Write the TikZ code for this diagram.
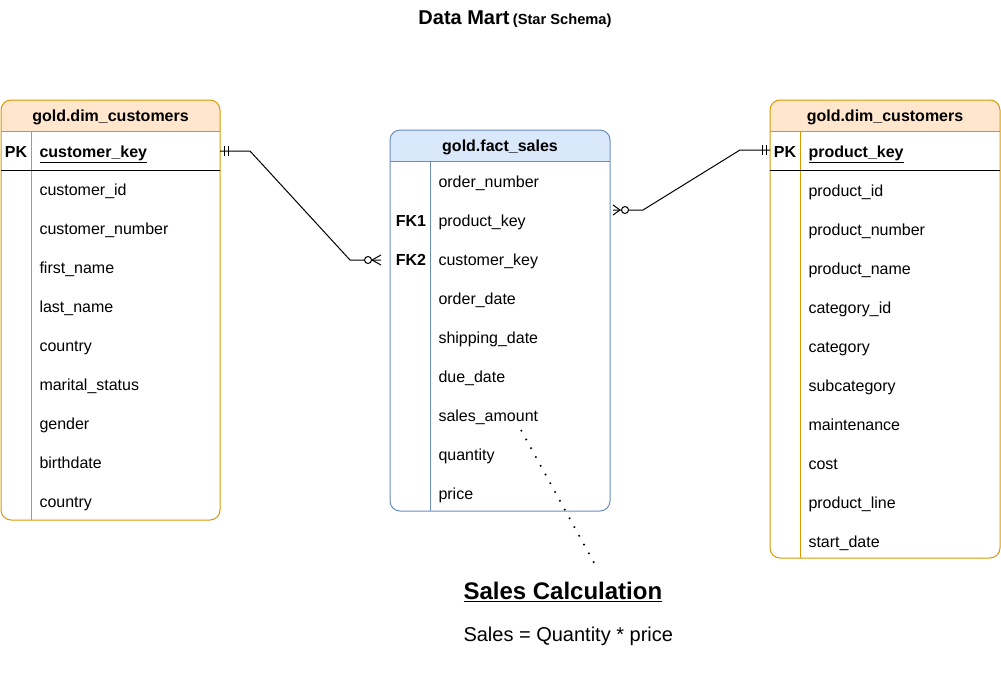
\documentclass[tikz,border=0pt]{standalone}
\usepackage{fontspec}
\setmainfont{Liberation Sans}

\definecolor{dimline}{HTML}{D79B00}
\definecolor{dimfill}{HTML}{FFE6CC}
\definecolor{factline}{HTML}{6C8EBF}
\definecolor{factfill}{HTML}{DAE8FC}

\tikzset{every picture/.style={line width=0.75pt}}
\tikzset{
	rowtext/.style={anchor=base west, inner sep=0pt, font=\fontsize{12}{14}\selectfont},
	keytext/.style={anchor=base, inner sep=0pt, font=\fontsize{12}{14}\selectfont\bfseries},
	headtext/.style={anchor=base, inner sep=0pt, font=\fontsize{12}{14}\selectfont\bfseries},
	notedots/.style={line width=1.2pt, dash pattern=on 1.2pt off 6.3pt},
}

\begin{document}
\begin{tikzpicture}[x=0.75pt,y=0.75pt,yscale=-1,xscale=1]
	\useasboundingbox (0,0) rectangle (1001,693);

	% Text Node
	\node[anchor=base, inner sep=0pt] (title) at (515,24) {\fontsize{15}{18}\selectfont\bfseries Data Mart\,\fontsize{11}{13}\selectfont (Star Schema)};

	%Shape: Table [id:gold.dim_customers left]
	\begin{scope}
		\clip[rounded corners=7.5pt] (1,100) rectangle (220,520);
		\fill[dimfill] (1,100) rectangle (220,131);
	\end{scope}
	\draw[dimline, rounded corners=7.5pt] (1,100) rectangle (220,520);
	\draw[dimline] (1,131) -- (220,131);
	\draw[dimline] (31,131) -- (31,520);
	\draw (1,170) -- (220,170);
	\node[headtext] (custhead) at (110.5,121.5) {gold.dim\_customers};
	\node[keytext] (custpk) at (16,157) {PK};
	\node[rowtext, font=\fontsize{12}{14}\selectfont\bfseries] (custkey) at (39,157) {\underline{customer\_key}};
	\foreach \txt [count=\i from 0] in {customer\_id, customer\_number, first\_name, last\_name, country, marital\_status, gender, birthdate, country}
		\node[rowtext] (cust\i) at (39,195.5+39*\i) {\txt};

	%Shape: Table [id:gold.fact_sales]
	\begin{scope}
		\clip[rounded corners=7.5pt] (390,130) rectangle (610,511);
		\fill[factfill] (390,130) rectangle (610,161);
	\end{scope}
	\draw[factline, rounded corners=7.5pt] (390,130) rectangle (610,511);
	\draw[factline] (390,161) -- (610,161);
	\draw[factline] (430,161) -- (430,511);
	\node[headtext] (facthead) at (500,151.5) {gold.fact\_sales};
	\node[keytext] (factfk1) at (411,226) {FK1};
	\node[keytext] (factfk2) at (411,265) {FK2};
	\foreach \txt [count=\i from 0] in {order\_number, product\_key, customer\_key, order\_date, shipping\_date, due\_date, sales\_amount, quantity, price}
		\node[rowtext] (fact\i) at (438,187.5+39*\i) {\txt};

	%Shape: Table [id:gold.dim_customers right]
	\begin{scope}
		\clip[rounded corners=7.5pt] (770,100) rectangle (1000,558);
		\fill[dimfill] (770,100) rectangle (1000,131);
	\end{scope}
	\draw[dimline, rounded corners=7.5pt] (770,100) rectangle (1000,558);
	\draw[dimline] (770,131) -- (1000,131);
	\draw[dimline] (800,131) -- (800,558);
	\draw (770,170) -- (1000,170);
	\node[headtext] (prodhead) at (885,121.5) {gold.dim\_customers};
	\node[keytext] (prodpk) at (785,157) {PK};
	\node[rowtext, font=\fontsize{12}{14}\selectfont\bfseries] (prodkey) at (808,157) {\underline{product\_key}};
	\foreach \txt [count=\i from 0] in {product\_id, product\_number, product\_name, category\_id, category, subcategory, maintenance, cost, product\_line, start\_date}
		\node[rowtext] (prod\i) at (808,196+39*\i) {\txt};

	%Connector: customers -> fact_sales
	\coordinate (custlink) at (220,151);
	\coordinate (factcustlink) at (381,260);
	\draw (custlink) -- (250,151) -- (350,260) -- (factcustlink);
	\draw (224,146) -- (224,156) (228,146) -- (228,156);
	\draw[fill=white] (368,260) circle (3.5);
	\draw (372,260) -- (381,255) (372,260) -- (381,265);

	%Connector: products -> fact_sales
	\coordinate (prodlink) at (770,150);
	\coordinate (factprodlink) at (613,210);
	\draw (prodlink) -- (740,150) -- (643,210) -- (factprodlink);
	\draw (762,145) -- (762,155) (766,145) -- (766,155);
	\draw[fill=white] (625,210) circle (3.5);
	\draw (620,210) -- (613,205) (620,210) -- (613,215);

	%Curve Lines [dotted note]
	\coordinate (salesnote) at (521,430);
	\coordinate (calcnote) at (598,570);
	\draw[notedots] (salesnote) -- (calcnote);

	% Text Node
	\node[anchor=base west, inner sep=0pt, font=\fontsize{18}{22}\selectfont\bfseries] (calctitle) at (463,599) {\underline{Sales Calculation}};
	% Text Node
	\node[anchor=base west, inner sep=0pt, font=\fontsize{15}{18}\selectfont] (calcformula) at (463,641) {Sales = Quantity * price};

\end{tikzpicture}
\end{document}
